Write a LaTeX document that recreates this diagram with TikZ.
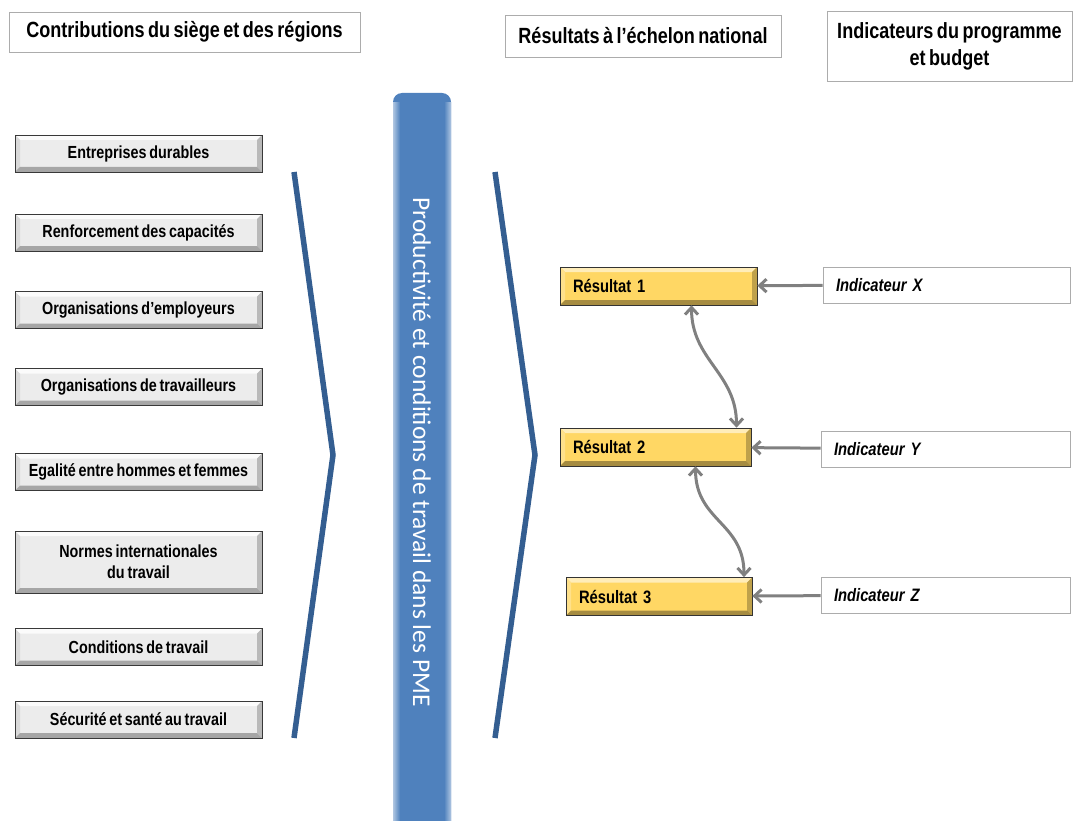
\documentclass[tikz,border=0pt]{standalone}
\usepackage{fontspec}
\setmainfont[FakeStretch=0.82, WordSpace=0.7]{Liberation Sans}
\newfontfamily\barfont{Carlito}
\usetikzlibrary{arrows.meta}

\definecolor{barblue}{RGB}{79,129,189}
\definecolor{chevblue}{RGB}{52,94,145}
\definecolor{resgold}{RGB}{255,215,100}
\definecolor{linkgray}{RGB}{128,128,128}

% bevelled frame inside a node: top, left, right, bottom
\def\bevelframe#1#2#3#4{%
	\fill[#1] (path picture bounding box.north west) -- (path picture bounding box.north east) -- ([shift={(-5pt,-5pt)}]path picture bounding box.north east) -- ([shift={(5pt,-5pt)}]path picture bounding box.north west) -- cycle;
	\fill[#2] (path picture bounding box.north west) -- (path picture bounding box.south west) -- ([shift={(5pt,5pt)}]path picture bounding box.south west) -- ([shift={(5pt,-5pt)}]path picture bounding box.north west) -- cycle;
	\fill[#3] (path picture bounding box.north east) -- (path picture bounding box.south east) -- ([shift={(-5pt,5pt)}]path picture bounding box.south east) -- ([shift={(-5pt,-5pt)}]path picture bounding box.north east) -- cycle;
	\fill[#4] (path picture bounding box.south west) -- (path picture bounding box.south east) -- ([shift={(-5pt,5pt)}]path picture bounding box.south east) -- ([shift={(5pt,5pt)}]path picture bounding box.south west) -- cycle;}

\tikzset{
	headbox/.style={draw=gray!65, line width=0.8pt, fill=white, align=center, inner sep=0pt, font=\bfseries\fontsize{22}{27}\selectfont},
	topic/.style={draw=gray!45!black, line width=0.7pt, fill=gray!15, minimum width=247, minimum height=37, inner sep=0pt, align=center, font=\bfseries\fontsize{17.5}{21}\selectfont, path picture={\bevelframe{gray!3}{gray!30}{gray!55}{gray!70}}},
	result/.style={draw=gray!40!black, line width=0.7pt, fill=resgold, minimum height=38, inner xsep=13pt, inner ysep=0pt, align=left, font=\bfseries\fontsize{18}{21}\selectfont, path picture={\bevelframe{resgold!45!white}{resgold!75!white}{resgold!75!black}{resgold!65!black}}},
	indic/.style={draw=gray!65, line width=0.8pt, fill=white, minimum height=36, inner xsep=13pt, inner ysep=0pt, align=left, font=\bfseries\itshape\fontsize{18}{21}\selectfont},
	bartext/.style={rotate=-90, text=white, inner sep=0pt, font=\barfont\fontsize{25.5}{28}\selectfont},
	chevron/.style={draw=chevblue, line width=5.5pt, line join=miter},
	link/.style={-{Straight Barb[length=7pt,width=13pt]}, draw=linkgray, line width=3pt},
	twoway/.style={link, {Straight Barb[length=7pt,width=13pt]}-{Straight Barb[length=7pt,width=13pt]}}
}

\begin{document}
\begin{tikzpicture}[x=1pt, y=-1pt]
		%%%%% START %%%%%
		\useasboundingbox (0,0) rectangle (1073,821);
		
		% column heads
		\node[headbox, minimum width=351, minimum height=40] (head1) at (184.5,32) {Contributions du siège et des régions};
		\node[headbox, minimum width=276, minimum height=42] (head2) at (643,36) {Résultats à l’échelon national};
		\node[headbox, minimum width=245, minimum height=70] (head3) at (949.5,46) {Indicateurs du programme\\et budget};
		
		% contributions
		\node[topic] (t1) at (138.5,153.5) {Entreprises durables};
		\node[topic] (t2) at (138.5,232.5) {Renforcement des capacités};
		\node[topic] (t3) at (138.5,310) {Organisations d’employeurs};
		\node[topic] (t4) at (138.5,387) {Organisations de travailleurs};
		\node[topic] (t5) at (138.5,472) {Egalité entre hommes et femmes};
		\node[topic, minimum height=62] (t6) at (138.5,562) {Normes internationales\\du travail};
		\node[topic] (t7) at (138.5,647) {Conditions de travail};
		\node[topic] (t8) at (138.5,719.5) {Sécurité et santé au travail};
		
		% chevrons
		\draw[chevron] (294,172) -- (333,455) -- (294,738);
		\draw[chevron] (495,172) -- (535,455) -- (495,738);
		
		% outcome bar
		\fill[barblue, rounded corners=9pt] (393,840) -- (393,93) -- (451,93) -- (451,840) -- cycle;
		\shade[left color=barblue!45!white, right color=barblue] (393,103) rectangle (400,821);
		\shade[left color=barblue, right color=barblue!45!white] (444,103) rectangle (451,821);
		\node[bartext] (theme) at (422,452) {Productivité et conditions de travail dans les PME};
		
		% results
		\node[result, text width=171pt] (r1) at (658.5,286) {Résultat 1};
		\node[result, text width=165pt] (r2) at (655.5,447) {Résultat 2};
		\node[result, text width=160pt] (r3) at (659,596.5) {Résultat 3};
		
		% indicators
		\node[indic, text width=221pt] (ix) at (946.5,285) {Indicateur X};
		\node[indic, text width=223pt] (iy) at (945.5,449) {Indicateur Y};
		\node[indic, text width=223pt] (iz) at (945.5,595) {Indicateur Z};
		
		\draw[link] (ix) -- (r1);
		\draw[link] (iy) -- (r2);
		\draw[link] (iz) -- (r3);
		
		\draw[twoway] ([xshift=33pt]r1.south) .. controls +(0,55) and +(0,-55) .. ([xshift=81pt]r2.north);
		\draw[twoway] ([xshift=40pt]r2.south) .. controls +(0,55) and +(0,-55) .. ([xshift=85pt]r3.north);
		
		%%%%% END %%%%%
\end{tikzpicture}
\end{document}
